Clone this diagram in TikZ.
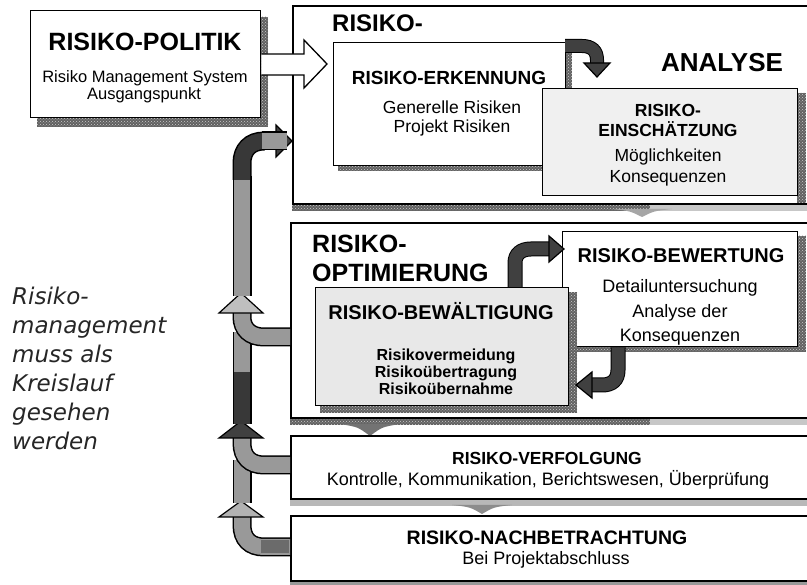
\documentclass[tikz,border=0pt]{standalone}
\usepackage{fontspec}
\setmainfont{Liberation Sans}
\newfontfamily\sidefont{DejaVu Sans}
\usetikzlibrary{patterns}
\newcommand\fsz[1]{\fontsize{#1}{#1}\selectfont}
\tikzset{
  box/.style={draw=black, line width=1.3pt, fill=white, inner sep=0pt, anchor=north west},
  bigbox/.style={draw=black, line width=1.6pt, fill=white, inner sep=0pt, anchor=north west},
  hatchshadow/.style={preaction={fill=black!62}, pattern=crosshatch dots, pattern color=white!80!black},
  lightshadow/.style={fill=black!22},
  pipe/.style={draw=black, line width=1.5pt, double distance=16pt},
  gpipe/.style={pipe, double=black!40},
  dpipe/.style={pipe, double=black!78},
  spipe/.style={draw=black, line width=1pt, double distance=12pt, double=black!75},
  pipehead/.style={draw=black, line width=1.2pt, line join=miter},
  lbl/.style={inner sep=0pt, anchor=base},
  ttl/.style={lbl, font=\bfseries},
}
\begin{document}
\begin{tikzpicture}[x=1pt,y=-1pt,line join=miter]
\useasboundingbox (0,0) rectangle (807,585);
\fill[white] (0,0) rectangle (807,585);

% ---------------- RISIKO-ANALYSE block
\path[hatchshadow] (292,203) rectangle (650,211);
\path[lightshadow] (650,203) rectangle (807,211);
\node[bigbox, minimum width=530pt, minimum height=198pt] (analyse) at (292,5) {};
\fill[black!35] (612,209) .. controls (630,211) .. (642,217) .. controls (654,211) .. (672,209) -- cycle;
\node[ttl, anchor=base west, font=\bfseries\fsz{24}] (t-analyse-1) at (332,32) {RISIKO-};
\node[ttl, font=\bfseries\fsz{26}] (t-analyse-2) at (722,72) {ANALYSE};

% Erkennung
\path[hatchshadow] (565,47) rectangle (572,171);
\path[hatchshadow] (338,165) rectangle (572,171);
\node[box, minimum width=232pt, minimum height=123pt] (erkennung) at (333,42) {};
\node[ttl, font=\bfseries\fsz{19}] (t-erk) at (449,85) {RISIKO-ERKENNUNG};
\node[lbl, font=\fsz{17.5}] (t-erk-1) at (452,114) {Generelle Risiken};
\node[lbl, font=\fsz{17.5}] (t-erk-2) at (452,133) {Projekt Risiken};

% arrow Erkennung -> Einschaetzung
\coordinate (a1s) at (565,46);
\coordinate (a1e) at (597,77);
\draw[spipe] (a1s) -- (582,46) .. controls (592,46) and (597,51) .. (597,60) -- (597,65);
\draw[pipehead, fill=black!75] (584,63) -- (a1e) -- (610,63) -- cycle;

% Einschaetzung
\path[hatchshadow] (797,93) rectangle (806,203);
\node[box, fill=black!6, minimum width=255pt, minimum height=107pt] (einsch) at (542,88) {};
\node[ttl, font=\bfseries\fsz{17.5}] (t-ein-1) at (668,117) {RISIKO-};
\node[ttl, font=\bfseries\fsz{17.5}] (t-ein-2) at (668,137) {EINSCHÄTZUNG};
\node[lbl, font=\fsz{17.5}] (t-ein-3) at (668,162) {Möglichkeiten};
\node[lbl, font=\fsz{17.5}] (t-ein-4) at (668,183) {Konsequenzen};

% ---------------- RISIKO-POLITIK
\path[hatchshadow] (260,17) rectangle (268,127);
\path[hatchshadow] (37,117) rectangle (268,127);
\node[box, minimum width=230pt, minimum height=107pt] (politik) at (30,10) {};
\node[ttl, font=\bfseries\fsz{25}] (t-pol) at (145,51) {RISIKO-POLITIK};
\node[lbl, font=\fsz{16.5}] (t-pol-1) at (145,83) {Risiko Management System};
\node[lbl, font=\fsz{16.5}] (t-pol-2) at (144,100) {Ausgangspunkt};

% hollow arrow Politik -> Analyse
\coordinate (hs1) at (politik.east |- 0,54);
\coordinate (hs2) at (politik.east |- 0,75);
\coordinate (he) at (327,64);
\fill[white] (hs1) -- (304,54) -- (304,40) -- (he) -- (304,88) -- (304,75) -- (hs2) -- cycle;
\draw[line width=1.3pt] (hs1) -- (304,54) -- (304,40) -- (he) -- (304,88) -- (304,75) -- (hs2);

% ---------------- RISIKO-OPTIMIERUNG block
\path[hatchshadow] (290,417) rectangle (650,425);
\path[lightshadow] (650,417) rectangle (807,425);
\node[bigbox, minimum width=530pt, minimum height=195pt] (optim) at (290,222) {};
\fill[black!55] (340,424) .. controls (358,427) .. (370,436) .. controls (382,427) .. (400,424) -- cycle;
\node[ttl, anchor=base west, font=\bfseries\fsz{25}] (t-opt-1) at (312,253) {RISIKO-};
\node[ttl, anchor=base west, font=\bfseries\fsz{25}] (t-opt-2) at (312,282) {OPTIMIERUNG};

% Bewertung
\path[hatchshadow] (797,236) rectangle (806,352);
\path[hatchshadow] (567,346) rectangle (806,352);
\node[box, minimum width=235pt, minimum height=115pt] (bewertung) at (562,231) {};
\node[ttl, font=\bfseries\fsz{20}] (t-bew) at (681,263) {RISIKO-BEWERTUNG};
\node[lbl, font=\fsz{18}] (t-bew-1) at (680,293) {Detailuntersuchung};
\node[lbl, font=\fsz{18}] (t-bew-2) at (680,318) {Analyse der};
\node[lbl, font=\fsz{18}] (t-bew-3) at (680,342) {Konsequenzen};

% Bewaeltigung
\path[hatchshadow] (568,292) rectangle (577,413);
\path[hatchshadow] (320,405) rectangle (577,413);
\node[box, fill=black!9, minimum width=253pt, minimum height=118pt] (bewaelt) at (315,287) {};
\node[ttl, font=\bfseries\fsz{20}] (t-bwl) at (441,320) {RISIKO-BEWÄLTIGUNG};
\node[ttl, font=\bfseries\fsz{16}] (t-bwl-1) at (446,361) {Risikovermeidung};
\node[ttl, font=\bfseries\fsz{16}] (t-bwl-2) at (446,378) {Risikoübertragung};
\node[ttl, font=\bfseries\fsz{16}] (t-bwl-3) at (446,395) {Risikoübernahme};

% arrow Bewaeltigung -> Bewertung
\coordinate (a2s) at (bewaelt.north -| 515,0);
\coordinate (a2e) at (564,249);
\draw[spipe, double distance=13pt] (a2s) -- (515,263) .. controls (515,254) and (521,249) .. (531,249) -- (550,249);
\draw[pipehead, fill=black!75] (549,236) -- (a2e) -- (549,262) -- cycle;
% arrow Bewertung -> Bewaeltigung
\coordinate (a3s) at (bewertung.south -| 618,0);
\coordinate (a3e) at (576,385);
\draw[spipe, double distance=13pt] (a3s) -- (618,370) .. controls (618,380) and (612,385) .. (602,385) -- (591,385);
\draw[pipehead, fill=black!75] (592,372) -- (a3e) -- (592,398) -- cycle;

% ---------------- RISIKO-VERFOLGUNG
\path[fill=black!28] (290,498) rectangle (807,506);
\node[bigbox, minimum width=530pt, minimum height=63pt] (verfolg) at (290,435) {};
\fill[black!45] (452,505) .. controls (470,507) .. (482,514) .. controls (494,507) .. (512,505) -- cycle;
\node[ttl, font=\bfseries\fsz{17.5}] (t-ver) at (547,465) {RISIKO-VERFOLGUNG};
\node[lbl, font=\fsz{18}] (t-ver-1) at (548,486) {Kontrolle, Kommunikation, Berichtswesen, Überprüfung};

% ---------------- RISIKO-NACHBETRACHTUNG
\path[fill=black!40] (290,580) rectangle (807,586);
\node[bigbox, minimum width=530pt, minimum height=65pt] (nachb) at (290,515) {};
\node[ttl, font=\bfseries\fsz{19.5}] (t-nach) at (547,545) {RISIKO-NACHBETRACHTUNG};
\node[lbl, font=\fsz{18}] (t-nach-1) at (546,565) {Bei Projektabschluss};

% ---------------- feedback pipe (left)
\coordinate (b3) at (nachb.west |- 0,547);
\coordinate (b2) at (verfolg.west |- 0,465);
\coordinate (b1) at (optim.west |- 0,337);
\coordinate (top) at (analyse.west |- 0,141);
\draw[gpipe] (b3) -- (264,547) .. controls (250,547) and (242,539) .. (242,525) -- (242,516);
\fill[black!58] (261,540.5) rectangle (289,553.5);
\draw[pipehead, fill=black!30] (219,517) -- (241,501) -- (263,517) -- cycle;
\draw[gpipe] (242,503) -- (242,460);
\draw[gpipe] (b2) -- (264,465) .. controls (250,465) and (242,457) .. (242,443) -- (242,437);
\draw[pipehead, fill=black!75] (219,438) -- (241,421) -- (263,438) -- cycle;
\draw[gpipe] (242,374) -- (242,332);
\draw[dpipe] (242,424) -- (242,372);
\draw[gpipe] (b1) -- (264,337) .. controls (250,337) and (242,329) .. (242,317) -- (242,312);
\draw[pipehead, fill=black!25] (219,313) -- (241,293) -- (263,313) -- cycle;
\draw[gpipe] (242,296) -- (242,176);
\draw[dpipe] (242,180) -- (242,163) .. controls (242,150) and (250,141) .. (264,141);
\draw[pipehead, fill=black!75] (276,125) -- (top) -- (276,157) -- cycle;
\draw[gpipe] (262,141) -- (287,141);

% ---------------- side text
\begin{scope}[every node/.style={inner sep=0pt, anchor=base west, font=\sidefont\itshape\fsz{23}, text=black!85}]
\node (s1) at (12,305) {Risiko-};
\node (s2) at (12,334) {management};
\node (s3) at (12,363) {muss als};
\node (s4) at (12,392) {Kreislauf};
\node (s5) at (12,421) {gesehen};
\node (s6) at (12,450) {werden};
\end{scope}
\end{tikzpicture}
\end{document}
